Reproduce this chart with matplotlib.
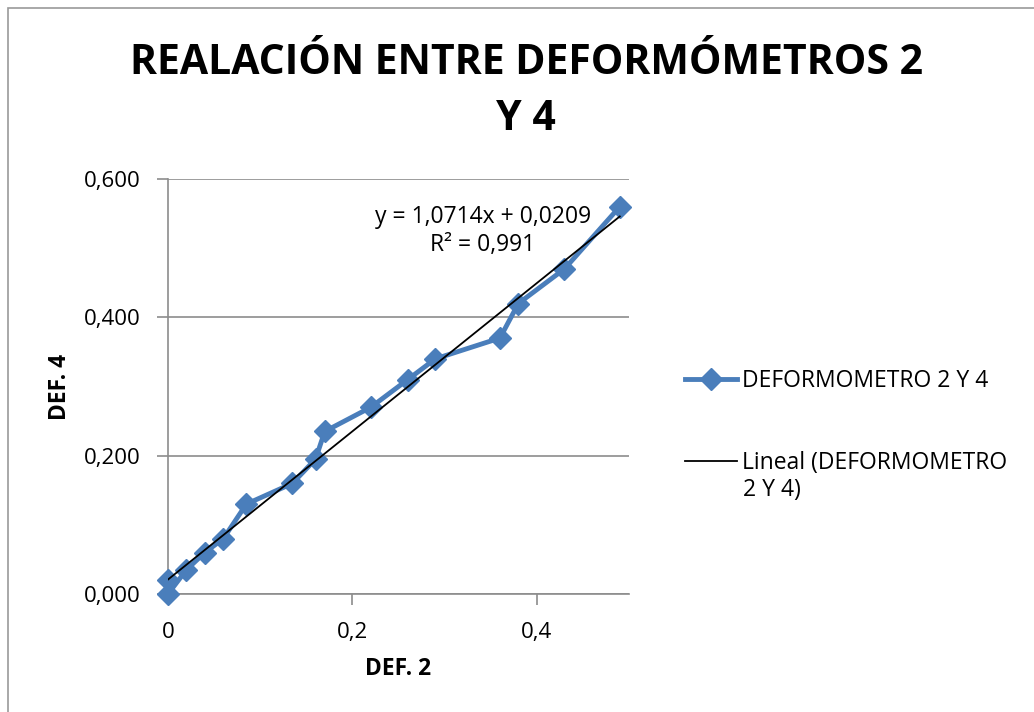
import matplotlib
matplotlib.use("Agg")
import matplotlib.pyplot as plt
import numpy as np
from matplotlib.patches import Rectangle

# readings (DEF. 2 vs DEF. 4)
def2 = [0.0, 0.0, 0.02, 0.04, 0.06, 0.085, 0.135, 0.16, 0.17, 0.22,
        0.26, 0.29, 0.36, 0.38, 0.43, 0.49]
def4 = [0.02, 0.0, 0.035, 0.06, 0.08, 0.13, 0.16, 0.195, 0.235, 0.27,
        0.31, 0.34, 0.37, 0.42, 0.47, 0.56]

x_ticks = [0, 0.2, 0.4]
x_tick_labels = ["0", "0,2", "0,4"]
y_ticks = [0, 0.2, 0.4, 0.6]
y_tick_labels = ["0,000", "0,200", "0,400", "0,600"]

trend_slope = 1.0714
trend_icpt = 0.0209

plt.rcParams['font.family'] = ['Open Sans', 'DejaVu Sans']

fig = plt.figure(figsize=(10.34, 7.12), dpi=100)
W, H = 1034, 712
ax = fig.add_axes([168 / W, 1 - 594 / H, (629 - 168) / W, (594 - 179) / H])

# outer chart border
fig.patches.append(Rectangle((8 / W, -0.1), 1.2, 1 - 8 / H + 0.1, transform=fig.transFigure,
                             fill=False, edgecolor='#999999', linewidth=1.2))

blue = '#4a7ebb'
ax.plot(def2, def4, color=blue, linewidth=3.5, marker='D', markersize=11,
        markeredgecolor=blue, label='DEFORMOMETRO 2 Y 4', zorder=3, clip_on=False)

tx = np.array([min(def2), max(def2)])
ax.plot(tx, trend_slope * tx + trend_icpt, color='black', linewidth=1.3,
        label='Lineal (DEFORMOMETRO', zorder=4)

ax.set_xlim(0, 0.5)
ax.set_ylim(0, 0.6)
ax.set_xticks(x_ticks)
ax.set_xticklabels(x_tick_labels)
ax.set_yticks(y_ticks)
ax.set_yticklabels(y_tick_labels)
ax.tick_params(axis='both', labelsize=16, color='#8c8c8c', length=8, width=1.2)
ax.tick_params(axis='x', pad=12)
ax.tick_params(axis='y', pad=12)
ax.grid(axis='y', color='#8c8c8c', linewidth=1.2)
ax.set_axisbelow(True)
for s in ['top', 'right']:
    ax.spines[s].set_visible(False)
for s in ['left', 'bottom']:
    ax.spines[s].set_color('#8c8c8c')
    ax.spines[s].set_linewidth(1.2)

ax.set_xlabel('DEF. 2', fontsize=16.5, fontweight='bold', labelpad=10)
ax.set_ylabel('DEF. 4', fontsize=16.5, fontweight='bold', labelpad=8)

ax.text(483 / W, 1 - 231 / H, 'y = 1,0714x + 0,0209\nR² = 0,991', transform=fig.transFigure,
        ha='center', va='center', fontsize=16.5, linespacing=1.25)

fig.text(526 / W, 1 - 63 / H, 'REALACIÓN ENTRE DEFORMÓMETROS 2', ha='center', va='center',
         fontsize=29.5, fontweight='bold')
fig.text(526 / W, 1 - 119 / H, 'Y 4', ha='center', va='center', fontsize=29.5, fontweight='bold')

ax.legend(loc='upper left', bbox_to_anchor=(664 / W, 1 - 348 / H), bbox_transform=fig.transFigure,
          frameon=False, fontsize=16.5, handlelength=2.3, handletextpad=0.2, labelspacing=2.55)
# wrapped remainder of the trendline legend label
fig.text(743 / W, 1 - 490 / H, '2 Y 4)', ha='left', va='center', fontsize=16.5)

fig.savefig('out.png', dpi=100)
